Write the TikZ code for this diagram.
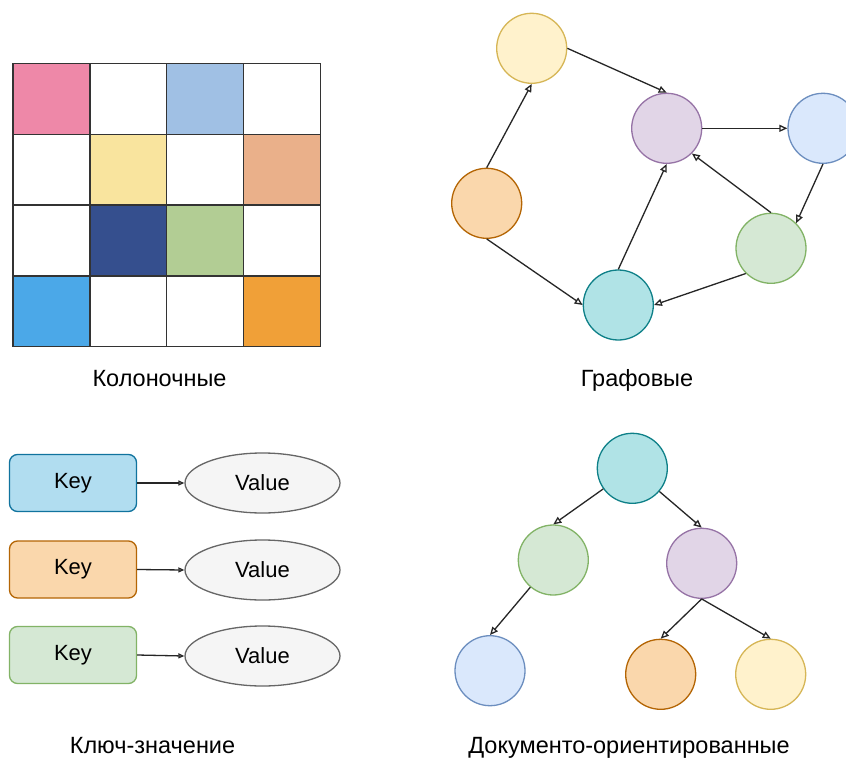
\documentclass[tikz,border=0pt]{standalone}
\usepackage{fontspec}
\setmainfont{Liberation Sans}
\usepackage{xcolor}
\usetikzlibrary{positioning, arrows.meta, shapes.geometric}

\definecolor{cpink}{HTML}{EE88A8}
\definecolor{cblue}{HTML}{A0C0E4}
\definecolor{cyellow}{HTML}{F9E49E}
\definecolor{csalmon}{HTML}{EAB08A}
\definecolor{cnavy}{HTML}{354F8E}
\definecolor{cgreen}{HTML}{B2CD94}
\definecolor{csky}{HTML}{4BA8E8}
\definecolor{corange}{HTML}{F0A038}

\definecolor{yfill}{HTML}{FFF2CC}\definecolor{ydraw}{HTML}{D6B656}
\definecolor{pfill}{HTML}{E1D5E7}\definecolor{pdraw}{HTML}{9673A6}
\definecolor{bfill}{HTML}{DAE8FC}\definecolor{bdraw}{HTML}{6C8EBF}
\definecolor{ofill}{HTML}{FAD7AC}\definecolor{odraw}{HTML}{B46504}
\definecolor{gfill}{HTML}{D5E8D4}\definecolor{gdraw}{HTML}{82B366}
\definecolor{tfill}{HTML}{B0E3E6}\definecolor{tdraw}{HTML}{0E8088}
\definecolor{kfill}{HTML}{B1DDF0}\definecolor{kdraw}{HTML}{10739E}
\definecolor{vfill}{HTML}{F5F5F5}\definecolor{vdraw}{HTML}{666666}

\tikzset{
  gridline/.style={draw=black!80, line width=1.3pt},
  vertex/.style={circle, minimum size=70pt, inner sep=0pt, line width=1.3pt},
  edge/.style={line width=1.3pt, draw=black!85, -{Triangle[open, length=8pt, width=7pt]}},
  keybox/.style={rectangle, rounded corners=8pt, minimum width=127pt, minimum height=57pt, line width=1.3pt, font=\fontsize{22}{26}\selectfont},
  valbox/.style={ellipse, minimum width=155pt, minimum height=60pt, inner sep=0pt, fill=vfill, draw=vdraw, line width=1.3pt, font=\fontsize{22}{26}\selectfont},
  caption/.style={anchor=base, font=\fontsize{23.5}{28}\selectfont}
}

\begin{document}
\begin{tikzpicture}[x=1pt, y=-1pt]
\clip (0,0) rectangle (846,760);
\fill[white] (0,0) rectangle (846,760);

% columns
\begin{scope}
\foreach \c/\r/\col in {0/0/cpink, 2/0/cblue, 1/1/cyellow, 3/1/csalmon, 1/2/cnavy, 2/2/cgreen, 0/3/csky, 3/3/corange}
  \fill[\col] ({13+76.9*\c},{63.3+70.85*\r}) rectangle ++(76.9,70.85);
\foreach \i in {0,...,4} {
  \draw[gridline] ({13+76.9*\i},63.3) -- ({13+76.9*\i},346.7);
  \draw[gridline] (13,{63.3+70.85*\i}) -- (320.6,{63.3+70.85*\i});
}
\node[caption] (colcap) at (159.5,386) {Колоночные};
\end{scope}

% graph
\begin{scope}
\node[vertex, fill=yfill, draw=ydraw] (gy) at (531.7,48.3) {};
\node[vertex, fill=pfill, draw=pdraw] (gp) at (666.7,128.3) {};
\node[vertex, fill=bfill, draw=bdraw] (gb) at (823,128.3) {};
\node[vertex, fill=ofill, draw=odraw] (go) at (486.7,203.3) {};
\node[vertex, fill=gfill, draw=gdraw] (gg) at (771,248.3) {};
\node[vertex, fill=tfill, draw=tdraw] (gt) at (618.3,305) {};
\draw[edge] (gy.east) -- (gp.north);
\draw[edge] (go.north) -- (gy.south);
\draw[edge] (gp.east) -- (gb.west);
\draw[edge] (gb.south) -- (gg.north east);
\draw[edge] (gg.north) -- (gp.south east);
\draw[edge] (gg.south west) -- (gt.east);
\draw[edge] (go.south) -- (gt.west);
\draw[edge] (gt.north) -- (gp.south);
\node[caption] (graphcap) at (637,386) {Графовые};
\end{scope}

% key-value
\begin{scope}
\node[keybox, fill=kfill, draw=kdraw] (k1) at (73,483) {Key};
\node[keybox, fill=ofill, draw=odraw] (k2) at (73,569.5) {Key};
\node[keybox, fill=gfill, draw=gdraw] (k3) at (73,655) {Key};
\node[valbox] (v1) at (262.5,483) {Value};
\node[valbox] (v2) at (262.5,570) {Value};
\node[valbox] (v3) at (262.5,656) {Value};
\foreach \i in {1,2,3}
  \draw[edge, -{Triangle[open, length=6pt, width=5pt]}] (k\i.east) -- (v\i.west);
\node[caption] (kvcap) at (152.5,753) {Ключ-значение};
\end{scope}

% documents
\begin{scope}
\node[vertex, fill=tfill, draw=tdraw] (dt) at (632.3,468.3) {};
\node[vertex, fill=gfill, draw=gdraw] (dg) at (553.3,560) {};
\node[vertex, fill=pfill, draw=pdraw] (dp) at (701.7,563.3) {};
\node[vertex, fill=bfill, draw=bdraw] (db) at (490,670.7) {};
\node[vertex, fill=ofill, draw=odraw] (do) at (660.7,674.3) {};
\node[vertex, fill=yfill, draw=ydraw] (dy) at (770.7,674.3) {};
\draw[edge] (dt) -- (dg.north);
\draw[edge] (dt) -- (dp.north);
\draw[edge] (dg) -- (db.north);
\draw[edge] (dp.south) -- (do.north);
\draw[edge] (dp.south) -- (dy.north);
\node[caption] (doccap) at (629,753) {Документо-ориентированные};
\end{scope}
\end{tikzpicture}
\end{document}
